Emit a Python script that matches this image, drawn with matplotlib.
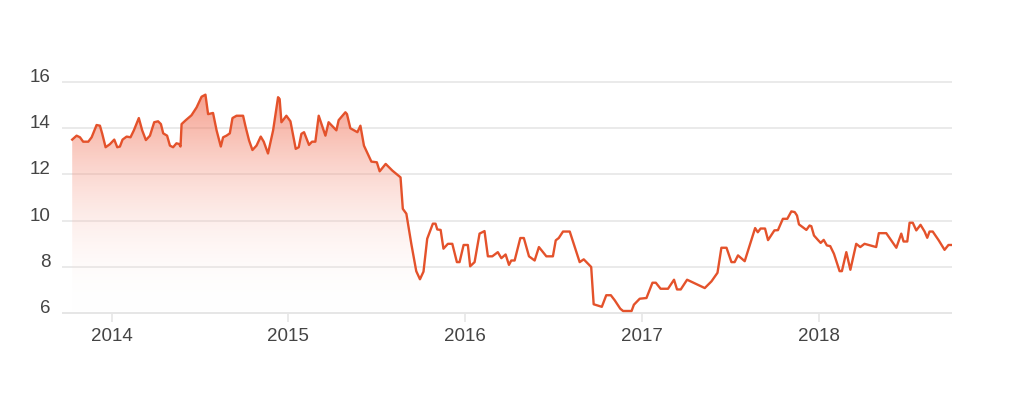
"""
Price line 2013-2018 with a shaded first two years.
"""

import numpy as np
import pandas as pd
import matplotlib
matplotlib.use("Agg")
import matplotlib.pyplot as plt
import matplotlib.dates as mdates
from matplotlib.colors import LinearSegmentedColormap

# decimal years
years = [
    2013.777, 2013.802, 2013.821, 2013.839, 2013.868, 2013.887, 2013.915, 2013.934,
    2013.947, 2013.966, 2013.990, 2014.015, 2014.032, 2014.047, 2014.062, 2014.085,
    2014.107, 2014.126, 2014.154, 2014.173, 2014.194, 2014.217, 2014.241, 2014.263,
    2014.279, 2014.292, 2014.314, 2014.330, 2014.348, 2014.367, 2014.382, 2014.390,
    2014.396, 2014.420, 2014.452, 2014.481, 2014.509, 2014.531, 2014.546, 2014.574,
    2014.594, 2014.618, 2014.631, 2014.650, 2014.669, 2014.684, 2014.707, 2014.744,
    2014.759, 2014.778, 2014.797, 2014.820, 2014.844, 2014.861, 2014.885, 2014.914,
    2014.942, 2014.951, 2014.961, 2014.989, 2015.012, 2015.042, 2015.059, 2015.074,
    2015.089, 2015.117, 2015.134, 2015.153, 2015.172, 2015.210, 2015.228, 2015.272,
    2015.285, 2015.323, 2015.332, 2015.351, 2015.391, 2015.408, 2015.428, 2015.470,
    2015.501, 2015.517, 2015.551, 2015.589, 2015.611, 2015.635, 2015.648, 2015.668,
    2015.696, 2015.724, 2015.745, 2015.765, 2015.786, 2015.818, 2015.833, 2015.843,
    2015.862, 2015.878, 2015.903, 2015.928, 2015.954, 2015.969, 2015.992, 2016.016,
    2016.029, 2016.054, 2016.082, 2016.110, 2016.129, 2016.154, 2016.185, 2016.205,
    2016.229, 2016.248, 2016.261, 2016.280, 2016.312, 2016.332, 2016.361, 2016.393,
    2016.417, 2016.459, 2016.496, 2016.512, 2016.529, 2016.553, 2016.591, 2016.647,
    2016.670, 2016.712, 2016.726, 2016.772, 2016.797, 2016.823, 2016.845, 2016.876,
    2016.892, 2016.940, 2016.953, 2016.986, 2017.024, 2017.058, 2017.077, 2017.104,
    2017.146, 2017.180, 2017.197, 2017.218, 2017.254, 2017.354, 2017.392, 2017.426,
    2017.448, 2017.477, 2017.505, 2017.523, 2017.542, 2017.580, 2017.639, 2017.654,
    2017.670, 2017.695, 2017.712, 2017.748, 2017.768, 2017.796, 2017.821, 2017.844,
    2017.863, 2017.876, 2017.887, 2017.915, 2017.929, 2017.947, 2017.957, 2017.972,
    2017.994, 2018.010, 2018.027, 2018.045, 2018.064, 2018.085, 2018.117, 2018.130,
    2018.155, 2018.178, 2018.211, 2018.234, 2018.258, 2018.324, 2018.339, 2018.381,
    2018.438, 2018.466, 2018.479, 2018.500, 2018.513, 2018.531, 2018.551, 2018.575,
    2018.598, 2018.613, 2018.626, 2018.644, 2018.678, 2018.711, 2018.733, 2018.752,
]

values = [
    13.50, 13.67, 13.60, 13.41, 13.41, 13.60, 14.13, 14.10,
    13.75, 13.17, 13.30, 13.50, 13.17, 13.20, 13.50, 13.63,
    13.60, 13.90, 14.43, 13.90, 13.48, 13.67, 14.25, 14.29,
    14.17, 13.77, 13.67, 13.24, 13.17, 13.34, 13.31, 13.20,
    14.17, 14.34, 14.55, 14.89, 15.35, 15.44, 14.60, 14.65,
    13.90, 13.20, 13.60, 13.67, 13.77, 14.43, 14.53, 14.53,
    14.03, 13.46, 13.05, 13.24, 13.63, 13.41, 12.90, 13.90,
    15.33, 15.25, 14.25, 14.53, 14.29, 13.10, 13.17, 13.75,
    13.82, 13.27, 13.41, 13.41, 14.53, 13.67, 14.25, 13.90,
    14.34, 14.68, 14.60, 13.99, 13.82, 14.10, 13.24, 12.55,
    12.52, 12.13, 12.45, 12.16, 12.02, 11.87, 10.51, 10.30,
    9.00, 7.82, 7.47, 7.80, 9.22, 9.87, 9.87, 9.62,
    9.60, 8.79, 9.00, 9.00, 8.21, 8.21, 8.95, 8.95,
    8.03, 8.21, 9.44, 9.55, 8.46, 8.46, 8.64, 8.38,
    8.54, 8.09, 8.28, 8.28, 9.25, 9.25, 8.46, 8.28,
    8.86, 8.46, 8.46, 9.15, 9.25, 9.53, 9.53, 8.21,
    8.33, 8.00, 6.39, 6.28, 6.78, 6.78, 6.56, 6.20,
    6.10, 6.10, 6.37, 6.63, 6.66, 7.32, 7.32, 7.06,
    7.06, 7.45, 7.03, 7.03, 7.45, 7.09, 7.38, 7.75,
    8.83, 8.83, 8.21, 8.21, 8.50, 8.25, 9.68, 9.50,
    9.66, 9.66, 9.16, 9.58, 9.59, 10.08, 10.08, 10.40,
    10.37, 10.22, 9.84, 9.68, 9.60, 9.79, 9.76, 9.36,
    9.17, 9.04, 9.17, 8.93, 8.90, 8.57, 7.82, 7.82,
    8.64, 7.88, 9.00, 8.86, 9.00, 8.86, 9.46, 9.46,
    8.83, 9.44, 9.10, 9.10, 9.91, 9.91, 9.58, 9.82,
    9.53, 9.26, 9.53, 9.53, 9.15, 8.74, 8.95, 8.95,
]

y_ticks = [6, 8, 10, 12, 14, 16]
x_range = (2013.719, 2018.752)
highlight_end = 2015.745   # shaded part of the series stops here

LINE_COLOR = "#e4522b"
GRID_COLOR = "#e6e6e6"
TEXT_COLOR = "#444444"


def to_dates(decimal_years):
    """Decimal years -> timestamps."""
    out = []
    for y in decimal_years:
        start = pd.Timestamp(int(y), 1, 1)
        end = pd.Timestamp(int(y) + 1, 1, 1)
        out.append(start + (end - start) * (y - int(y)))
    return pd.DatetimeIndex(out)


def main():
    plt.rcParams["font.family"] = ["Liberation Sans", "DejaVu Sans"]

    dates = to_dates(years)
    vals = np.array(values)
    xnum = mdates.date2num(dates)

    fig = plt.figure(figsize=(10.24, 4.05), dpi=100)
    ax = fig.add_axes([0.0605, 0.2247, 0.869, 0.5753])

    # gradient fill under the first stretch, clipped to the area polygon
    mask = np.array(years) <= highlight_end
    area = ax.fill_between(xnum[mask], vals[mask], y_ticks[0],
                           facecolor="none", edgecolor="none")
    cmap = LinearSegmentedColormap.from_list(
        "fade", [(1, 1, 1, 0.0), (0.94, 0.36, 0.24, 0.58)])
    grad = np.linspace(1, 0, 256).reshape(-1, 1)
    im = ax.imshow(grad, cmap=cmap, aspect="auto", origin="upper",
                   extent=[xnum[mask][0], xnum[mask][-1], y_ticks[0], vals.max()],
                   interpolation="bilinear", zorder=1)
    im.set_clip_path(area.get_paths()[0], transform=ax.transData)

    ax.plot(xnum, vals, color=LINE_COLOR, lw=1.7, zorder=3,
            solid_joinstyle="round")

    lo, hi = to_dates(x_range)
    ax.set_xlim(mdates.date2num(lo), mdates.date2num(hi))
    ax.set_ylim(y_ticks[0] - 0.03, y_ticks[-1] + 0.03)

    ax.set_yticks(y_ticks)
    ax.grid(axis="y", color=GRID_COLOR, lw=1.2, zorder=0)
    ax.set_axisbelow(True)
    ax.tick_params(axis="y", length=0, pad=8, labelsize=13.5,
                   labelcolor=TEXT_COLOR)
    for lab in ax.get_yticklabels():
        lab.set_verticalalignment("baseline")

    ax.xaxis.set_major_locator(mdates.YearLocator())
    ax.xaxis.set_major_formatter(mdates.DateFormatter("%Y"))
    ax.tick_params(axis="x", length=6, width=1.2, color=GRID_COLOR, pad=4,
                   labelsize=13.5, labelcolor=TEXT_COLOR)

    for side in ["top", "right", "left", "bottom"]:
        ax.spines[side].set_visible(False)
    # bottom grid line stays visible as the x baseline
    ax.axhline(y_ticks[0], color=GRID_COLOR, lw=1.2, zorder=0)

    fig.savefig("out.png", dpi=100, facecolor="white")
    plt.close(fig)


if __name__ == "__main__":
    main()
